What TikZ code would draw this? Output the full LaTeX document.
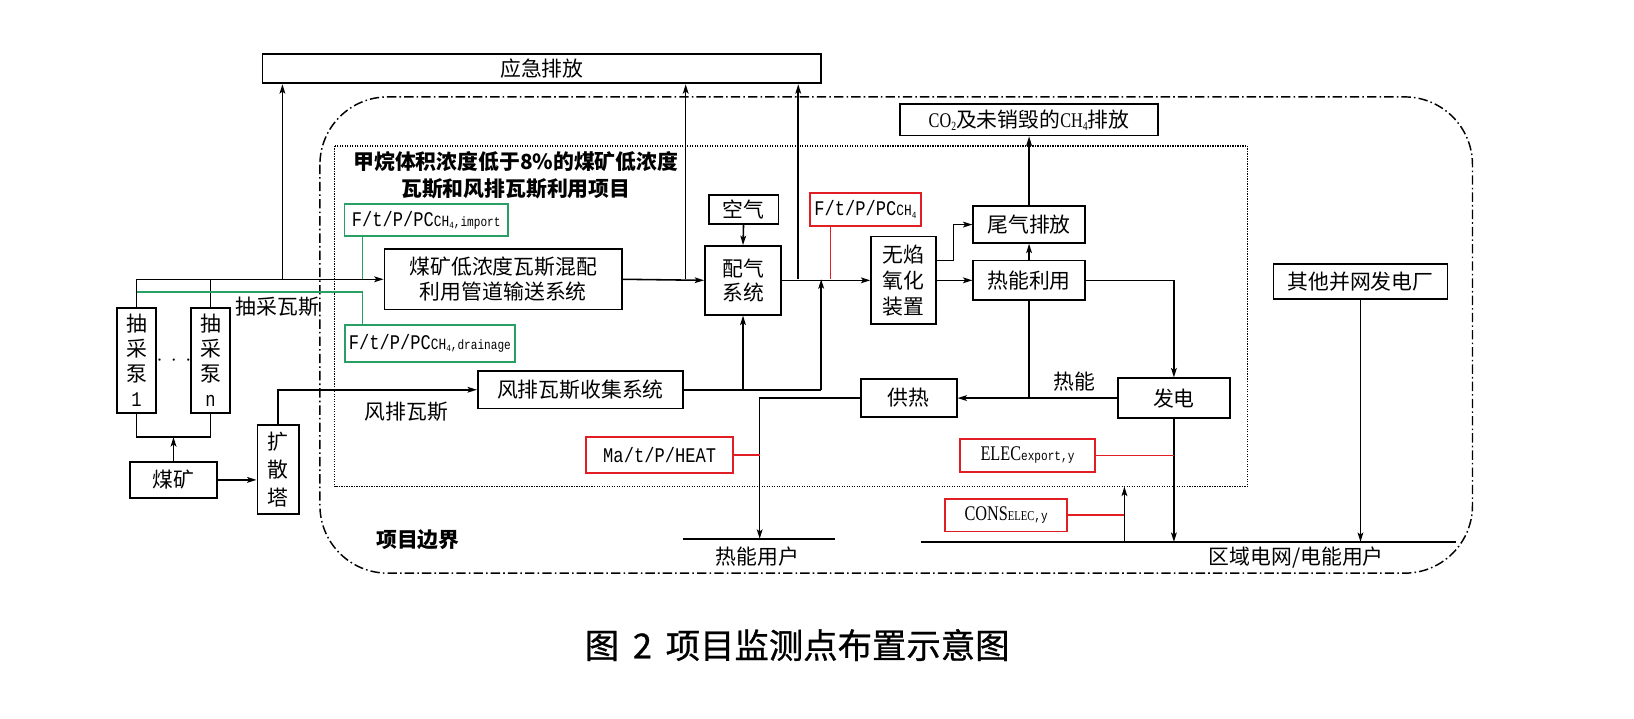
\documentclass[tikz,border=0pt]{standalone}
\usepackage{fontspec}
\setmainfont{Noto Sans CJK SC}
\newfontfamily\capf[FakeBold=0.8]{Noto Sans CJK SC}
\newfontfamily\mono[FakeStretch=0.82]{Liberation Mono}
\newfontfamily\tms[FakeStretch=0.78]{Liberation Serif}
\usetikzlibrary{arrows.meta}
\definecolor{gr}{RGB}{40,160,100}
\definecolor{rd}{RGB}{225,30,35}
\newcommand\fz[2]{\fontsize{#1}{#2}\selectfont}
\newcommand\tsub[1]{\raisebox{-3pt}{\fz{12}{12}#1}}
\newcommand\ftp[1]{{\mono\fz{20}{24}F/t/P/PC}{\mono\fz{15}{18}CH}\raisebox{-2pt}{\mono\fz{9}{10}4}{\mono\fz{13}{15}#1}}
\begin{document}
\begin{tikzpicture}[x=1pt,y=-1pt,
  box/.style={draw, line width=1.7pt, inner sep=0pt, align=center, font=\fz{20}{24}},
  gbox/.style={box, draw=gr},
  rbox/.style={box, draw=rd},
  ln/.style={line width=1.5pt},
  arr/.style={ln, -{Stealth[length=9pt,width=5.5pt,inset=2pt]}},
  gln/.style={line width=1.6pt, draw=gr},
  rln/.style={line width=1.6pt, draw=rd},
  lbl/.style={inner sep=0pt, font=\fz{20}{24}},
]
\useasboundingbox (0,0) rectangle (1568,689);

% boundaries
\draw[line width=1.4pt, dash pattern=on 9pt off 3pt on 1.5pt off 3pt, rounded corners=65pt] (307,93) rectangle (1413,550);
\draw[line width=1.3pt, dash pattern=on 1.2pt off 1.2pt] (321,140) rectangle (1197,467);

% boxes
\node[box, minimum width=536, minimum height=28] (emg) at (520,66) {应急排放};
\node[box, minimum width=248, minimum height=30] (co2) at (987.5,115) {{\tms CO}\tsub{\tms 2}及未销毁的{\tms CH}\tsub{\tms 4}排放};
\node[box, minimum width=67, minimum height=28] (air) at (713.5,201) {空气};
\node[box, minimum width=228, minimum height=58, font=\fz{20}{23.5}] (mix) at (483,268) {煤矿低浓度瓦斯混配\\利用管道输送系统};
\node[box, minimum width=73, minimum height=66, font=\fz{20}{23}] (peiqi) at (713,269) {配气\\系统};
\node[box, minimum width=62, minimum height=84, font=\fz{20}{25}] (wy) at (867,269) {无焰\\氧化\\装置};
\node[box, minimum width=107, minimum height=35] (weiqi) at (987.5,215.5) {尾气排放};
\node[box, minimum width=107, minimum height=38] (reneng) at (987.5,269) {热能利用};
\node[box, minimum width=167, minimum height=34] (other) at (1305.5,270) {其他并网发电厂};
\node[box, minimum width=197, minimum height=36] (fenpai) at (557,374) {风排瓦斯收集系统};
\node[box, minimum width=92, minimum height=37] (gongre) at (872,382) {供热};
\node[box, minimum width=107, minimum height=38] (fadian) at (1126.5,382) {发电};
\node[box, minimum width=38, minimum height=101] (pump1) at (131,346) {抽\\采\\泵\\{\mono 1}};
\node[box, minimum width=37, minimum height=101] (pumpn) at (202,346) {抽\\采\\泵\\{\mono n}};
\node[box, minimum width=83, minimum height=35] (meikuang) at (166.5,460.5) {煤矿};
\node[box, minimum width=40, minimum height=85, font=\fz{20}{27}] (kuosan) at (267,450.5) {扩\\散\\塔};

\node[gbox, minimum width=157, minimum height=31] (imp) at (409,211) {\ftp{,import}};
\node[gbox, minimum width=163, minimum height=35] (drain) at (412.5,329.5) {\ftp{,drainage}};
\node[rbox, minimum width=107, minimum height=32] (ch4) at (830.5,201) {\ftp{}};
\node[rbox, minimum width=141, minimum height=35] (heat) at (633,436.5) {{\mono\fz{20}{24}Ma/t/P/HEAT}};
\node[rbox, minimum width=130, minimum height=32] (elec) at (986,437) {{\tms ELEC}{\mono\fz{13}{15}export,y}};
\node[rbox, minimum width=117, minimum height=31] (cons) at (965.5,494.5) {{\tms CONS}{\tms\fz{13}{15}ELEC}{\mono\fz{13}{15},y}};

% labels
\node[font=\bfseries\fz{20}{25.5}, align=center, inner sep=0pt] (title) at (495,168) {甲烷体积浓度低于8\%的煤矿低浓度\\瓦斯和风排瓦斯利用项目};
\node[lbl] (lcq) at (266,294) {抽采瓦斯};
\node[lbl] (lfp) at (390,395) {风排瓦斯};
\node[lbl] (lrn) at (1031,366) {热能};
\node[lbl] (lry) at (727,534) {热能用户};
\node[lbl] (lqy) at (1244,535) {区域电网/电能用户};
\node[lbl, font=\bfseries\fz{20}{24}] (lbj) at (401,518) {项目边界};
\node[lbl] (dots) at (167,346) {$\cdot\,\cdot\,\cdot$};
\node[inner sep=0pt, font=\capf\fz{33}{36}] (cap) at (765,619) {图\hspace{0.4em}2\hspace{0.4em}项目监测点布置示意图};

% coordinates
\coordinate (j1) at (131,268);
\coordinate (jn) at (202,268);
\coordinate (je1) at (271,268);
\coordinate (je2) at (658,268);
\coordinate (je3) at (766,268);
\coordinate (g1) at (131,280);
\coordinate (g2) at (348,280);
\coordinate (g3) at (348,268);
\coordinate (r1) at (797,268);
\coordinate (f1) at (788,374);
\coordinate (f2) at (713,374);
\coordinate (f3) at (788,268);
\coordinate (pb1) at (131,419.5);
\coordinate (pbn) at (202,419.5);
\coordinate (w1) at (915,250);
\coordinate (h1) at (729,517);
\coordinate (hu1) at (655,517);
\coordinate (hu2) at (801,517);
\coordinate (gl1) at (884,520);
\coordinate (gl2) at (1397,520);
\coordinate (c1) at (1079,520);
\coordinate (c2) at (1079,467);

% connectors
\draw[ln] (pump1.north) -- (j1);
\draw[ln] (pumpn.north) -- (jn);
\draw[arr] (j1) -- (mix.west);
\draw[arr] (je1) -- (je1 |- emg.south);
\draw[gln] (g1) -- (g2) -- (g2 |- drain.north);
\draw[gln] (g3 |- imp.south) -- (g3);
\draw[arr] (mix.east) -- (peiqi.west);
\draw[arr] (je2) -- (je2 |- emg.south);
\draw[arr] (air.south) -- (peiqi.north);
\draw[arr] (peiqi.east) -- (wy.west);
\draw[arr] (je3) -- (je3 |- emg.south);
\draw[rln] (r1 |- ch4.south) -- (r1);
\draw[ln] (fenpai.east) -- (f1);
\draw[arr] (f1) -- (f3);
\draw[arr] (f2) -- (peiqi.south);
\draw[arr] (kuosan.north) |- (fenpai.west);
\draw[arr] (meikuang.east) -- (meikuang.east -| kuosan.west);
\draw[ln] (pump1.south) -- (pb1) -- (pbn) -- (pumpn.south);
\draw[arr] (meikuang.north) -- (meikuang.north |- pb1);
\draw[arr] (wy.east |- w1) -- (w1) |- (weiqi.west);
\draw[arr] (wy.east) -- (reneng.west);
\draw[arr] (reneng.north) -- (weiqi.south);
\draw[arr] (weiqi.north) -- (co2.south);
\draw[arr] (reneng.east) -| (fadian.north);
\draw[arr] (fadian.west) -- (gongre.east);
\draw[ln] (reneng.south) -- (reneng.south |- fadian.west);
\draw[arr] (gongre.west) -| (h1);
\draw[line width=1.8pt] (hu1) -- (hu2);
\draw[rln] (heat.east) -- (heat.east -| h1);
\draw[line width=1.8pt] (gl1) -- (gl2);
\draw[arr] (fadian.south) -- (fadian.south |- gl1);
\draw[rln] (elec.east) -- (elec.east -| fadian.south);
\draw[arr] (c1) -- (c2);
\draw[rln] (cons.east) -- (cons.east -| c1);
\draw[arr] (other.south) -- (other.south |- gl1);
\end{tikzpicture}
\end{document}
